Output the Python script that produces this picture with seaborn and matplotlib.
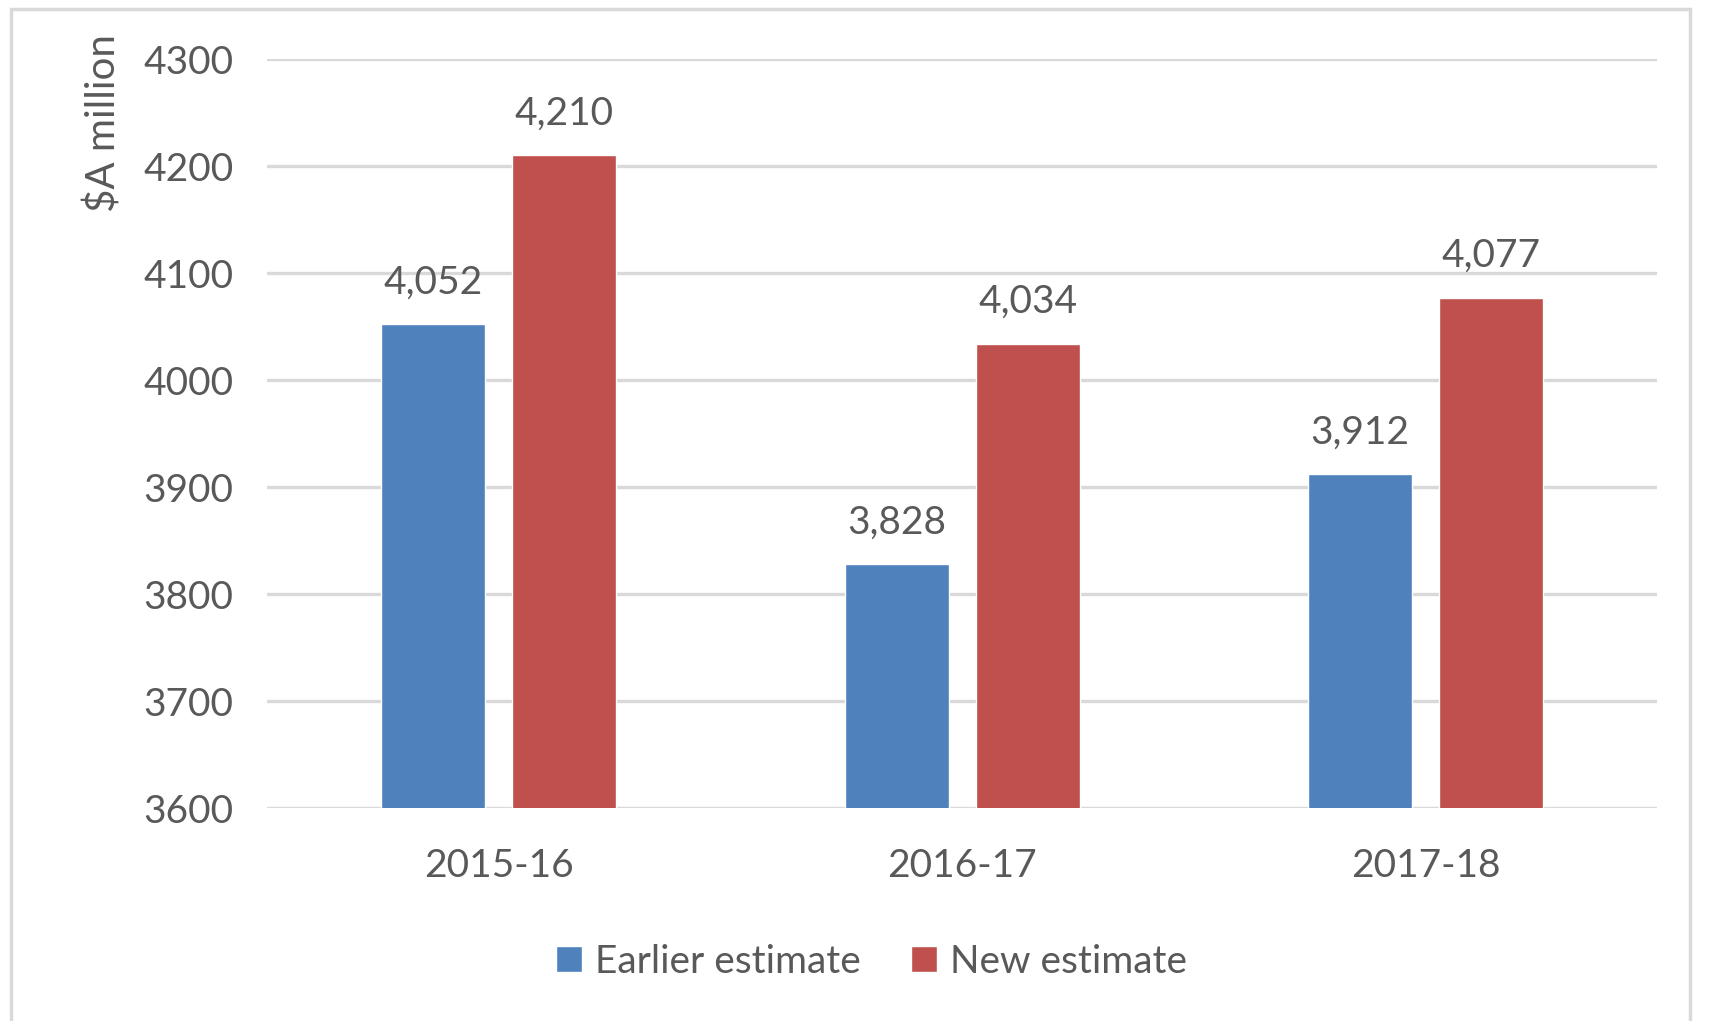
import pandas as pd
import matplotlib.pyplot as plt
import seaborn as sns
from matplotlib.patches import Rectangle

years = ['2015-16', '2016-17', '2017-18']
earlier = [4052, 3828, 3912]
new = [4210, 4034, 4077]
series_names = ['Earlier estimate', 'New estimate']
y_ticks = [3600, 3700, 3800, 3900, 4000, 4100, 4200, 4300]

colors = ['#4F81BD', '#C0504D']
text_gray = '#595959'
grid_gray = '#D9D9D9'

df = pd.DataFrame({
    'year': years * 2,
    'value': earlier + new,
    'series': [series_names[0]] * 3 + [series_names[1]] * 3,
})

sns.set_style('white')
plt.rcParams['font.family'] = ['Lato', 'DejaVu Sans']

fig = plt.figure(figsize=(17.12, 10.21), dpi=100)
ax = fig.add_axes([0.156, 0.2086, 0.812, 0.7336])

sns.barplot(data=df, x='year', y='value', hue='series', palette=colors,
            width=0.565, gap=0.206, ax=ax, saturation=1, legend=True)

ax.set_ylim(3600, 4300)
ax.set_xlim(-0.5, 2.5)
ax.set_yticks(y_ticks)
ax.yaxis.grid(True, color=grid_gray, linewidth=2.4)
ax.set_axisbelow(True)
for s in ax.spines.values():
    s.set_visible(False)
ax.tick_params(axis='both', length=0, labelsize=28, colors=text_gray)
ax.tick_params(axis='y', pad=24)
ax.tick_params(axis='x', pad=29)
ax.set_xlabel('')
ax.set_ylabel('$A million', fontsize=29, color=text_gray)
ax.yaxis.set_label_coords(-0.104, 0.915)

for cont in ax.containers:
    ax.bar_label(cont, labels=[f'{v:,.0f}' for v in cont.datavalues],
                 padding=17, fontsize=28, color=text_gray)

ax.legend(loc='center', bbox_to_anchor=(0.435, -0.205), ncol=2, frameon=False,
          fontsize=28, labelcolor=text_gray, handlelength=0.65, handleheight=0.65,
          handletextpad=0.35, columnspacing=1.3)

# light frame around the whole chart
fig.patches.append(Rectangle((11 / 1712, -0.01), (1690 - 11) / 1712, 1.0 - 9 / 1021 + 0.01,
                             transform=fig.transFigure, fill=False,
                             edgecolor=grid_gray, linewidth=2.5))

fig.savefig('out.png', dpi=100, facecolor='white')
